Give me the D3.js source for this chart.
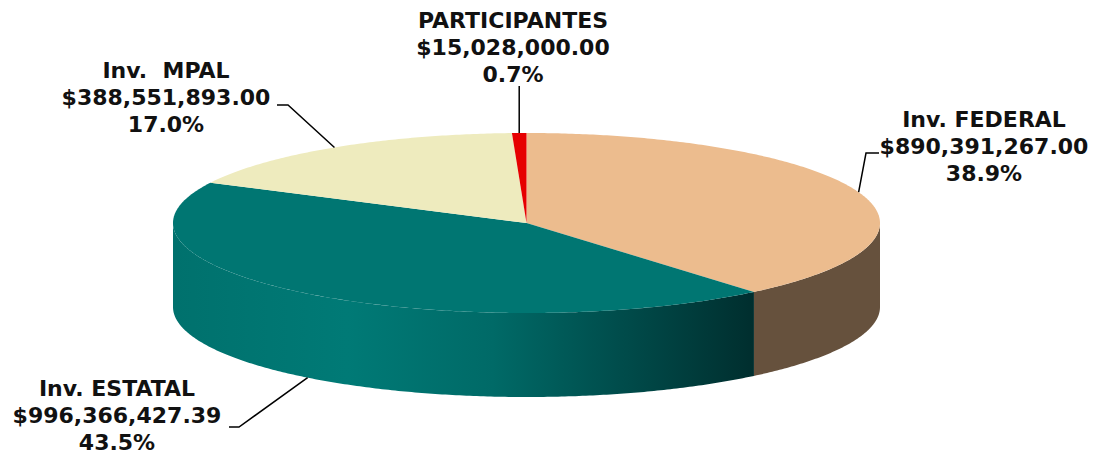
<!DOCTYPE html>
<html>
<head>
<meta charset="utf-8">
<script src="https://cdn.jsdelivr.net/npm/d3@7"></script>
<style>
  body { margin: 0; background: #fff; }
  text { font-family: "DejaVu Sans", Verdana, sans-serif; font-weight: bold; white-space: pre; }
</style>
</head>
<body>
<div id="chart"></div>
<script>
// data
const categories = ["Inv. FEDERAL", "Inv. ESTATAL", "Inv.  MPAL", "PARTICIPANTES"];
const values = [890391267.00, 996366427.39, 388551893.00, 15028000.00];
const topColors = ["#ecbc8e", "#007672", "#eeebbe", "#e60000"];
const sideColors = ["#66513d", "url(#estatalSide)", "#b5b38f", "#a00000"];

const W = 1101, H = 458;
const cx = 526.5, cy = 223, rx = 353.5, ry = 90, depth = 84;

const svg = d3.select("#chart")
  .append("svg")
  .attr("width", W)
  .attr("height", H);

// gradient for the dark teal wall
const grad = svg.append("defs").append("linearGradient")
  .attr("id", "estatalSide")
  .attr("gradientUnits", "userSpaceOnUse")
  .attr("x1", 173).attr("x2", 754).attr("y1", 0).attr("y2", 0);
[[0, "#00716d"], [0.3, "#007a76"], [0.55, "#006a67"], [0.78, "#004b4a"], [1, "#002e2e"]]
  .forEach(([o, c]) => grad.append("stop").attr("offset", o).attr("stop-color", c));

const total = d3.sum(values);
const fmtMoney = d3.format("$,.2f");
const fmtPct = d3.format(".1%");

const pie = d3.pie().sort(null).value(d => d);
const arcs = pie(values);

// point on top ellipse, angle clockwise from 12 o'clock
const px = a => cx + rx * Math.sin(a);
const py = a => cy - ry * Math.cos(a);

function arcPoints(a0, a1, dy) {
  const n = Math.max(2, Math.ceil((a1 - a0) / 0.01));
  return d3.range(n + 1).map(i => {
    const a = a0 + (a1 - a0) * i / n;
    return [px(a), py(a) + dy];
  });
}

const line = d3.line();

// side walls (front half only)
const g = svg.append("g");
arcs.forEach((d, i) => {
  const a0 = Math.max(d.startAngle, Math.PI / 2);
  const a1 = Math.min(d.endAngle, Math.PI * 1.5);
  if (a1 <= a0) return;
  const pts = arcPoints(a0, a1, 0).concat(arcPoints(a0, a1, depth).reverse());
  g.append("path")
    .attr("d", line(pts) + "Z")
    .attr("fill", sideColors[i]);
});

// top faces
arcs.forEach((d, i) => {
  const pts = [[cx, cy]].concat(arcPoints(d.startAngle, d.endAngle, 0));
  g.append("path")
    .attr("d", line(pts) + "Z")
    .attr("fill", topColors[i]);
});

// labels
const labelLayout = [
  { x: 984, y: 127, elbow: [866, 153], end: [879, 153] },
  { x: 117, y: 396, elbow: [239, 427], end: [229, 427] },
  { x: 166, y: 78, elbow: [288, 105], end: [277, 105] },
  { x: 513, y: 28, elbow: null, end: null }
];

arcs.forEach((d, i) => {
  const mid = (d.startAngle + d.endAngle) / 2;
  const front = Math.cos(mid) < 0;
  const anchor = [px(mid), py(mid) + (front ? depth : 0)];
  const L = labelLayout[i];
  let pts;
  if (L.elbow) pts = [anchor, L.elbow, L.end];
  else pts = [anchor, [anchor[0], L.y + 58]];
  svg.append("path")
    .attr("d", line(pts))
    .attr("fill", "none")
    .attr("stroke", "#000")
    .attr("stroke-width", 1.5);

  const t = svg.append("text")
    .attr("x", L.x)
    .attr("y", L.y)
    .attr("text-anchor", "middle")
    .style("font-size", "22px")
    .attr("fill", "#111");
  [categories[i], fmtMoney(values[i]), fmtPct(values[i] / total)].forEach((s, k) => {
    t.append("tspan").attr("x", L.x).attr("dy", k === 0 ? 0 : 27).text(s);
  });
});
</script>
</body>
</html>
